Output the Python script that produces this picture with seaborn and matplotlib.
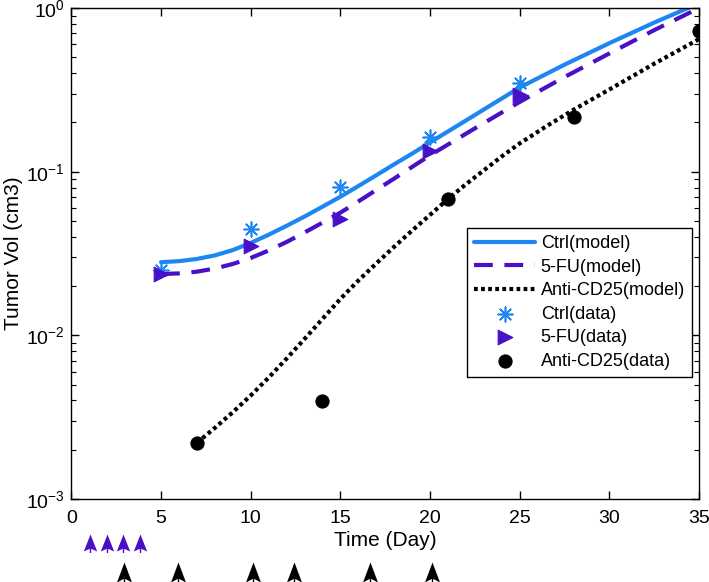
import matplotlib
matplotlib.use("Agg")
import matplotlib.pyplot as plt
import matplotlib.transforms as mtransforms
from matplotlib.path import Path
import seaborn as sns

# model curves
model_days = [5, 6, 7, 8, 9, 10, 11, 12, 13, 14, 15, 16, 17, 18, 19, 20,
              22.5, 25, 27.5, 30, 32.5, 35]
ctrl_model = [0.0280, 0.0284, 0.0293, 0.0308, 0.0332, 0.0367, 0.0412, 0.0467,
              0.0532, 0.0611, 0.0703, 0.0817, 0.0951, 0.111, 0.129, 0.151,
              0.222, 0.327, 0.451, 0.610, 0.815, 1.07]
fu_model = [0.0237, 0.0239, 0.0245, 0.0256, 0.0273, 0.0297, 0.0330, 0.0372,
            0.0425, 0.0488, 0.0562, 0.0658, 0.0773, 0.0908, 0.107, 0.126,
            0.184, 0.267, 0.379, 0.528, 0.733, 1.0]

anti_days = [7, 8, 9, 10, 11, 12, 13, 14, 15, 16, 17, 18, 19, 20, 21, 22, 23,
             24, 25, 26.5, 28, 30, 32.5, 35]
anti_model = [0.00221, 0.00272, 0.00339, 0.00429, 0.00552, 0.00721, 0.00951,
              0.0126, 0.0167, 0.0216, 0.0275, 0.0348, 0.0437, 0.0545, 0.0681,
              0.0838, 0.102, 0.124, 0.149, 0.190, 0.239, 0.318, 0.457, 0.646]

# measured data
ctrl_days = [5, 10, 15, 20, 25]
ctrl_data = [0.025, 0.0446, 0.0806, 0.164, 0.349]
fu_days = [5, 10, 15, 20, 25]
fu_data = [0.0237, 0.0352, 0.0513, 0.133, 0.293]
anti_data_days = [7, 14, 21, 28, 35]
anti_data = [0.00221, 0.00396, 0.068, 0.216, 0.72]

# treatment days (arrows under the axis)
fu_doses = [1.05, 2.0, 2.9, 3.85]
anti_doses = [2.95, 5.95, 10.15, 12.4, 16.65, 20.1]

blue = "#1E86F2"
purple = "#4A10C8"

sns.set_theme(style="ticks")
plt.rcParams["font.family"] = ["Liberation Sans", "DejaVu Sans"]
plt.rcParams["mathtext.fontset"] = "custom"
plt.rcParams["mathtext.rm"] = "Liberation Sans"
plt.rcParams["mathtext.default"] = "regular"
plt.rcParams["text.color"] = "black"
plt.rcParams["axes.labelcolor"] = "black"

fig = plt.figure(figsize=(7.09, 5.82), dpi=100)
ax = fig.add_axes([0.1007, 0.1426, 0.8853, 0.8436])

sns.lineplot(x=model_days, y=ctrl_model, ax=ax, color=blue, lw=3,
             label="Ctrl(model)")
sns.lineplot(x=model_days, y=fu_model, ax=ax, color=purple, lw=3,
             linestyle=(0, (4.5, 2.8)), label="5-FU(model)")
sns.lineplot(x=anti_days, y=anti_model, ax=ax, color="black", lw=3,
             linestyle=(0, (0.9, 0.8)), label="Anti-CD25(model)")

sns.scatterplot(x=ctrl_days, y=ctrl_data, ax=ax, marker=(8, 2, 0), color=blue,
                s=110, linewidth=1.2, label="Ctrl(data)", zorder=3)
sns.scatterplot(x=fu_days, y=fu_data, ax=ax, marker=">", color=purple,
                edgecolor=purple, s=110, label="5-FU(data)", zorder=3)
sns.scatterplot(x=anti_data_days, y=anti_data, ax=ax, marker="o", color="black",
                edgecolor="black", s=90, label="Anti-CD25(data)", zorder=3)

ax.set_yscale("log")
ax.set_xlim(0, 35)
ax.set_ylim(1e-3, 1)
ax.set_xticks(range(0, 36, 5))
ax.set_xlabel("Time (Day)", fontsize=15, labelpad=3)
ax.set_ylabel("Tumor Vol (cm3)", fontsize=15, labelpad=2)
ax.tick_params(which="both", direction="in", top=True, right=True,
               labelsize=14, colors="black", labelcolor="black")
ax.tick_params(which="major", length=6, width=1)
ax.tick_params(which="minor", length=3.5, width=0.8)
ax.tick_params(axis="x", pad=8)
ax.tick_params(axis="y", pad=5)
for sp in ax.spines.values():
    sp.set_color("black")
    sp.set_linewidth(1)

leg = ax.legend(loc="upper right", bbox_to_anchor=(0.989, 0.552),
                borderaxespad=0, fontsize=13, fancybox=False, framealpha=1,
                edgecolor="black", handlelength=3.4, handletextpad=0.3,
                labelspacing=0.36, borderpad=0.4)
leg.get_frame().set_linewidth(1)
for t in leg.get_texts():
    t.set_color("black")


# arrow markers for the dosing schedule
def arrow_marker(w, tip, base, notch, stem):
    verts = [(0, tip), (w, base), (0, notch), (-w, base), (0, tip),
             (-0.7, notch), (0.7, notch), (0.7, stem), (-0.7, stem), (-0.7, notch)]
    codes = [Path.MOVETO, Path.LINETO, Path.LINETO, Path.LINETO, Path.CLOSEPOLY,
             Path.MOVETO, Path.LINETO, Path.LINETO, Path.LINETO, Path.CLOSEPOLY]
    return Path(verts, codes)


trans = mtransforms.blended_transform_factory(ax.transData, ax.transAxes)
ax.scatter(fu_doses, [-0.0896] * len(fu_doses),
           marker=arrow_marker(6.7, 9, -8, -5, -9.5),
           s=187, color=purple, linewidths=0, transform=trans, clip_on=False)
ax.scatter(anti_doses, [-0.148] * len(anti_doses),
           marker=arrow_marker(7.5, 10, -10, -6, -12),
           s=299, color="black", linewidths=0, transform=trans, clip_on=False)

fig.savefig("out.png", dpi=100)
